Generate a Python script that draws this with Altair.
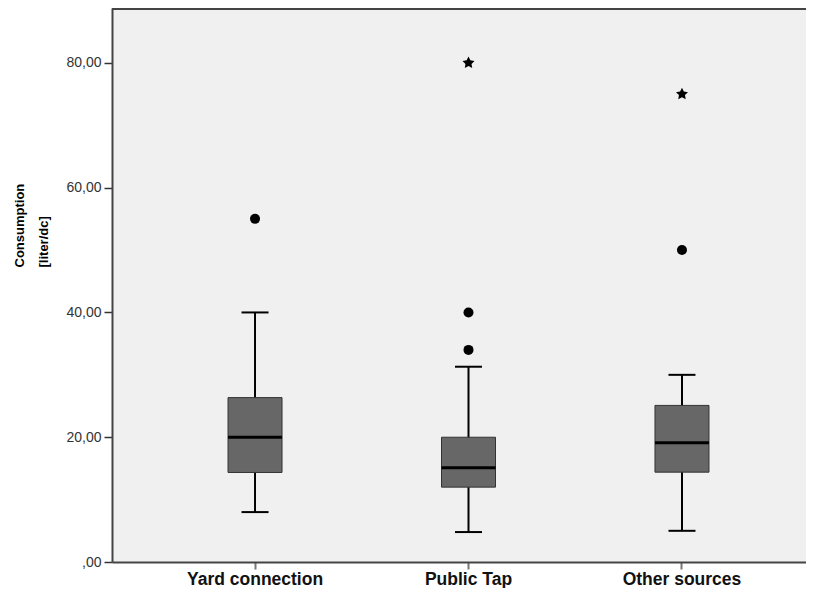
import altair as alt
import pandas as pd

# ---- data ----
categories = ["Yard connection", "Public Tap", "Other sources"]
whisker_low = [8.0, 4.8, 5.0]
q1 = [14.35, 12.0, 14.4]
median = [20.0, 15.1, 19.1]
q3 = [26.35, 20.0, 25.1]
whisker_high = [40.0, 31.3, 30.0]

outlier_group = ["Yard connection", "Public Tap", "Public Tap", "Other sources"]
outlier_value = [55.0, 40.0, 34.0, 50.0]

extreme_group = ["Public Tap", "Other sources"]
extreme_value = [80.0, 75.0]

y_ticks = [0, 20, 40, 60, 80]
y_title = ["Consumption", "[liter/dc]"]

# ---- tables ----
boxes = pd.DataFrame({
    "group": categories, "lo": whisker_low, "q1": q1,
    "med": median, "q3": q3, "hi": whisker_high,
})
outliers = pd.DataFrame({"group": outlier_group, "value": outlier_value})
extremes = pd.DataFrame({"group": extreme_group, "value": extreme_value})

W, H = 694, 554
FONT = "Liberation Sans"
STAR = ("M0,-1 L0.294,-0.405 L0.951,-0.309 L0.476,0.155 L0.588,0.809 "
        "L0,0.5 L-0.588,0.809 L-0.476,0.155 L-0.951,-0.309 L-0.294,-0.405 Z")

xscale = alt.Scale(type="band", range=[0, 713], paddingInner=0, paddingOuter=0.17)
xaxis = alt.Axis(title=None, labelFont=FONT, labelFontSize=17.5, labelFontWeight="bold",
                 labelColor="#111", labelAngle=0, labelBaseline="alphabetic",
                 labelPadding=15, tickSize=7, tickColor="#777", tickWidth=2,
                 domainColor="#444", domainWidth=2, grid=False)
yscale = alt.Scale(domain=[0, 88.8], nice=False, zero=True)
yaxis = alt.Axis(values=y_ticks, grid=False,
                 labelExpr="datum.value == 0 ? ',00' : replace(format(datum.value, '.2f'), '.', ',')",
                 labelFont=FONT, labelFontSize=14, labelColor="#333", labelPadding=3,
                 labelBaseline="middle",
                 tickSize=8, tickColor="#333", tickWidth=1.5,
                 domainColor="#444", domainWidth=2,
                 title=y_title, titleFont=FONT, titleFontSize=13, titleFontWeight="bold",
                 titleColor="#000", titleAngle=270, titleAlign="left",
                 titleBaseline="alphabetic", titleX=-89, titleY=259, titleLineHeight=24.5)


def X():
    return alt.X("group:N", sort=categories, scale=xscale, axis=xaxis)


def Y(field):
    return alt.Y(f"{field}:Q", scale=yscale, axis=yaxis)


base = alt.Chart(boxes)

whisk = base.mark_rule(color="black", strokeWidth=2, opacity=1).encode(
    x=X(), y=Y("lo"), y2="hi:Q")
box = base.mark_bar(size=54, color="#676767", stroke="#333", strokeWidth=1, opacity=1).encode(
    x=X(), y=Y("q1"), y2="q3:Q")
med = base.mark_tick(size=54, thickness=3, color="black", opacity=1).encode(
    x=X(), y=Y("med"))
cap_lo = base.mark_tick(size=27, thickness=2, color="black", opacity=1).encode(
    x=X(), y=Y("lo"))
cap_hi = base.mark_tick(size=27, thickness=2, color="black", opacity=1).encode(
    x=X(), y=Y("hi"))
pts = alt.Chart(outliers).mark_point(shape="circle", filled=True, size=100,
                                     color="black", opacity=1).encode(
    x=X(), y=Y("value"))
stars = alt.Chart(extremes).mark_point(shape=STAR, filled=True, size=160,
                                       color="black", opacity=1).encode(
    x=X(), y=Y("value"))
top_border = alt.Chart(pd.DataFrame({"a": [0]})).mark_rule(
    color="#444", strokeWidth=2).encode(
    x=alt.value(0), x2=alt.value(W), y=alt.value(1))

chart = alt.layer(whisk, box, med, cap_lo, cap_hi, pts, stars, top_border).properties(
    width=W, height=H,
    autosize=alt.AutoSizeParams(type="none"),
    padding={"left": 104, "top": 0, "right": 0, "bottom": 26},
    background="white",
).configure_view(fill="#F0F0F0", stroke="transparent", strokeWidth=0)

chart.save("out.html", embed_options={"renderer": "svg", "actions": False})
